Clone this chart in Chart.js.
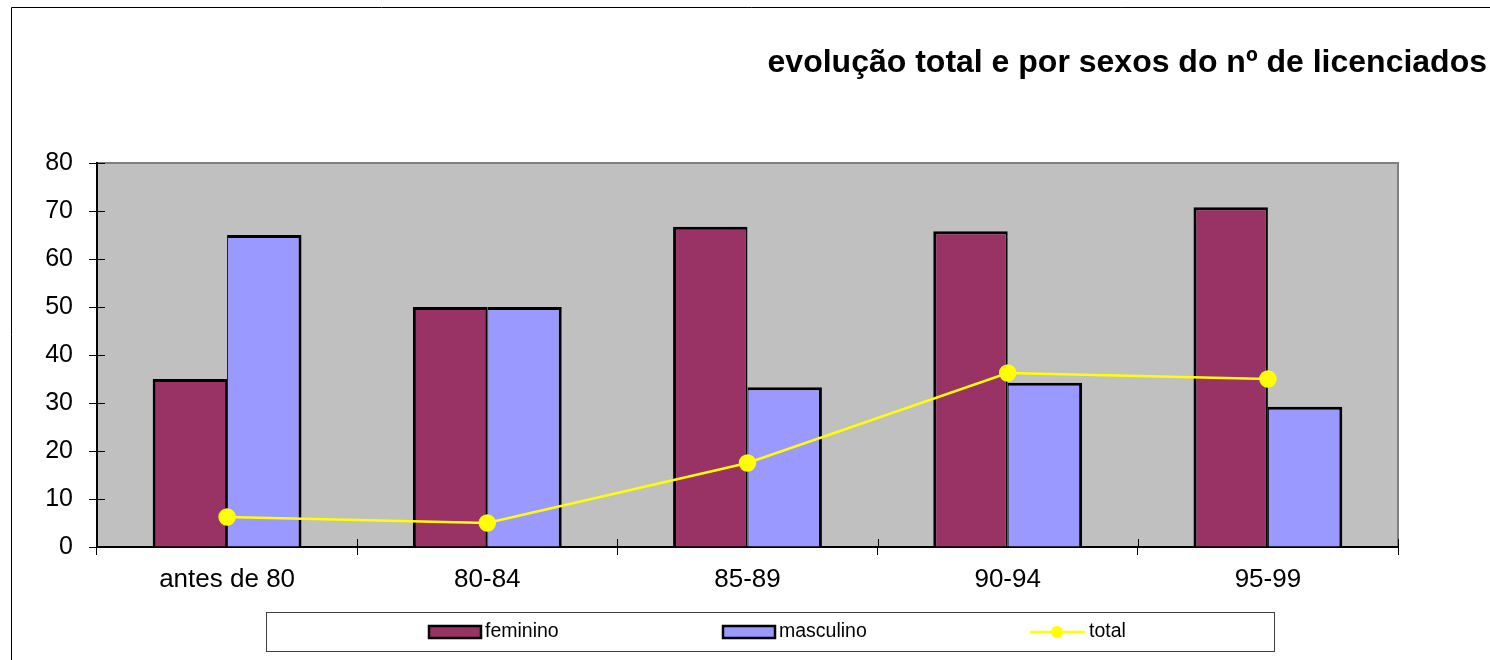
<!DOCTYPE html>
<html><head><meta charset="utf-8">
<script src="https://cdn.jsdelivr.net/npm/chart.js@4/dist/chart.umd.min.js"></script>
<style>html,body{margin:0;padding:0;background:#fff;overflow:hidden}</style>
</head><body>
<canvas id="c" width="1490" height="660"></canvas>
<script>
const TITLE = 'evolução total e por sexos do nº de licenciados';
const categories = ['antes de 80', '80-84', '85-89', '90-94', '95-99'];
const feminino = [35, 50, 66.7, 65.8, 70.8];
const masculino = [65, 50, 33.3, 34.2, 29.2];
const total = [6.25, 5, 17.5, 36.25, 35];
const seriesNames = ['feminino', 'masculino', 'total'];
const yMin = 0, yMax = 80, yStep = 10;

const FONT = '"Liberation Sans", Arial, sans-serif';

const framePlugin = {
  id: 'framePlugin',
  beforeDraw(chart) {
    const {ctx, chartArea: a} = chart;
    ctx.save();
    ctx.fillStyle = '#ffffff';
    ctx.fillRect(0, 0, chart.width, chart.height);
    // outer chart border
    ctx.strokeStyle = '#000000';
    ctx.lineWidth = 1;
    ctx.beginPath();
    ctx.moveTo(11.5, chart.height + 5);
    ctx.lineTo(11.5, 7.5);
    ctx.lineTo(chart.width + 5, 7.5);
    ctx.stroke();
    // plot area
    ctx.fillStyle = '#C0C0C0';
    ctx.fillRect(a.left, a.top, a.right - a.left, a.bottom - a.top);
    ctx.strokeStyle = '#808080';
    ctx.lineWidth = 2;
    ctx.beginPath();
    ctx.moveTo(a.left, a.top);
    ctx.lineTo(a.right, a.top);
    ctx.lineTo(a.right, a.bottom);
    ctx.stroke();
    ctx.restore();
  },
  beforeDatasetsDraw(chart) {
    const {ctx, chartArea: a, scales} = chart;
    ctx.save();
    ctx.strokeStyle = '#000000';
    ctx.lineWidth = 1;
    // inner parts of tick marks (ticks cross the axes)
    scales.y.ticks.forEach((t, i) => {
      const y = Math.round(scales.y.getPixelForTick(i)) + 0.5;
      ctx.beginPath(); ctx.moveTo(a.left, y); ctx.lineTo(a.left + 8, y); ctx.stroke();
    });
    const n = scales.x.ticks.length;
    const step = (a.right - a.left) / n;
    for (let i = 0; i <= n; i++) {
      const x = Math.round(a.left + step * i) + 0.5;
      ctx.beginPath(); ctx.moveTo(x, a.bottom - 8); ctx.lineTo(x, a.bottom); ctx.stroke();
    }
    ctx.restore();
  },
  afterDraw(chart) {
    const {ctx} = chart;
    ctx.save();
    // title
    ctx.fillStyle = '#000000';
    ctx.font = 'bold 32px ' + FONT;
    ctx.textAlign = 'right';
    ctx.textBaseline = 'alphabetic';
    ctx.fillText(TITLE, 1487, 72);
    // legend box
    ctx.fillStyle = '#ffffff';
    ctx.fillRect(266.5, 612.5, 1008, 39);
    ctx.strokeStyle = '#404040';
    ctx.lineWidth = 1;
    ctx.strokeRect(266.5, 612.5, 1008, 39);
    const ds = chart.data.datasets;
    const cy = 632;
    ctx.font = '19.5px ' + FONT;
    ctx.textAlign = 'left';
    ctx.textBaseline = 'middle';
    // swatches
    const sw = [[429, 0], [723, 1]];
    sw.forEach(([x, i]) => {
      ctx.fillStyle = ds[i].backgroundColor;
      ctx.fillRect(x, cy - 6, 52, 12);
      ctx.strokeStyle = '#000';
      ctx.lineWidth = 2.5;
      ctx.strokeRect(x, cy - 6, 52, 12);
      ctx.fillStyle = '#000';
      ctx.fillText(ds[i].label, x + 56, cy);
    });
    // line entry
    ctx.strokeStyle = ds[2].borderColor;
    ctx.lineWidth = 2.5;
    ctx.beginPath(); ctx.moveTo(1030, cy); ctx.lineTo(1085, cy); ctx.stroke();
    ctx.fillStyle = ds[2].pointBackgroundColor;
    ctx.beginPath(); ctx.arc(1057, cy, 6, 0, Math.PI * 2); ctx.fill();
    ctx.fillStyle = '#000';
    ctx.fillText(ds[2].label, 1089, cy);
    ctx.restore();
  }
};

new Chart(document.getElementById('c'), {
  data: {
    labels: categories,
    datasets: [
      { type: 'bar', label: seriesNames[0], data: feminino, backgroundColor: '#993366',
        borderColor: '#000000', borderWidth: { top: 3, left: 3, right: 2, bottom: 0 }, borderSkipped: false, order: 2,
        categoryPercentage: 0.572, barPercentage: 1.0 },
      { type: 'bar', label: seriesNames[1], data: masculino, backgroundColor: '#9999FF',
        borderColor: '#000000', borderWidth: { top: 3, left: 1, right: 3, bottom: 0 }, borderSkipped: false, order: 2,
        categoryPercentage: 0.572, barPercentage: 1.0 },
      { type: 'line', label: seriesNames[2], data: total, borderColor: '#FFFF00',
        backgroundColor: '#FFFF00', pointBackgroundColor: '#FFFF00', pointBorderColor: '#FFFF00',
        borderWidth: 2.5, pointRadius: 7.5, pointHoverRadius: 7.5, tension: 0, fill: false, order: 1 }
    ]
  },
  options: {
    responsive: false,
    animation: false,
    events: [],
    layout: { padding: { left: 0, top: 163, right: 92, bottom: 0 } },
    plugins: { legend: { display: false }, title: { display: false }, tooltip: { enabled: false } },
    scales: {
      x: {
        offset: true,
        grid: { display: true, drawOnChartArea: false, offset: true, tickLength: 8, color: '#000000', lineWidth: 1 },
        border: { display: true, color: '#000000', width: 2 },
        ticks: { color: '#000000', font: { family: FONT, size: 26 }, padding: 9, maxRotation: 0 },
        afterFit(s) { s.height = 113; }
      },
      y: {
        min: yMin, max: yMax,
        grid: { display: true, drawOnChartArea: false, tickLength: 8, color: '#000000', lineWidth: 1 },
        border: { display: true, color: '#000000', width: 2 },
        ticks: { stepSize: yStep, color: '#000000', font: { family: FONT, size: 25 }, padding: 16 },
        afterFit(s) { s.width = 97; }
      }
    }
  },
  plugins: [framePlugin]
});
</script>
</body></html>
